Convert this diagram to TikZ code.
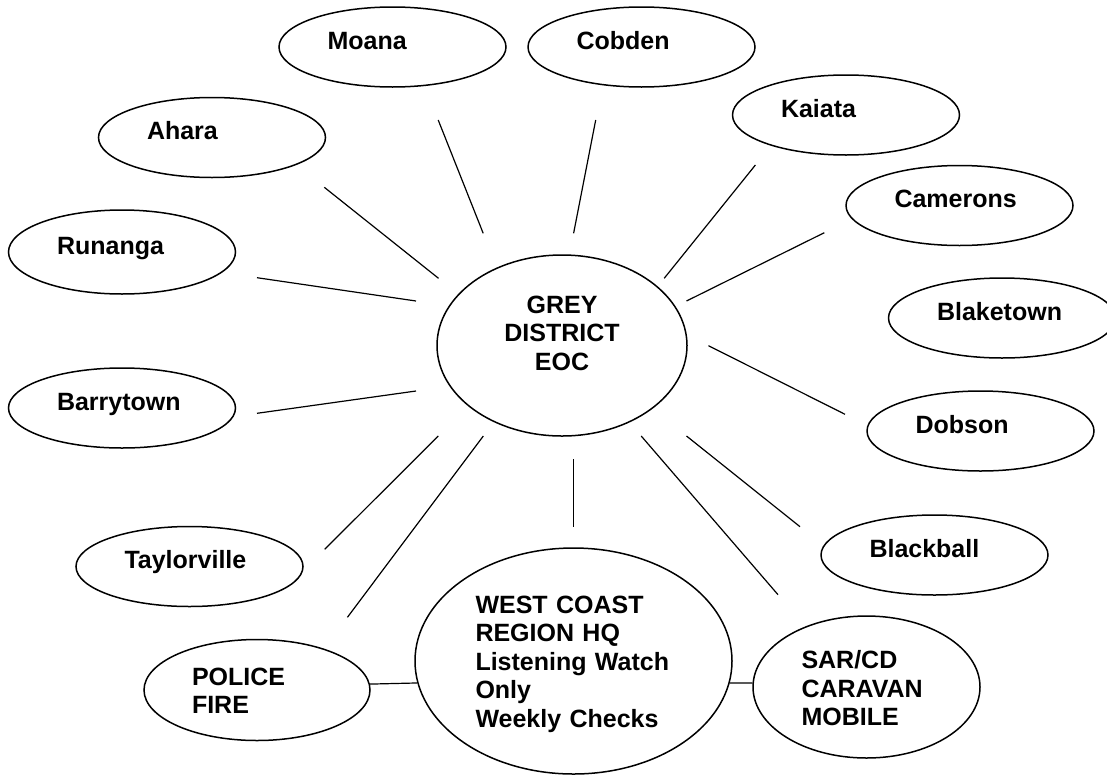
\documentclass[tikz,border=0pt]{standalone}
\usepackage{fontspec}
\setmainfont{Liberation Sans}
\usetikzlibrary{shapes.geometric}

\begin{document}
\begin{tikzpicture}[
    x = 1pt, y = -1pt, % pixel grid, y runs downwards
    site/.style = {ellipse, draw, line width = 1.5pt, inner sep = 0pt,
        minimum width = 227pt, minimum height = 80pt,
        text width = 130pt, align = left,
        text height = 18pt, text depth = 14pt,
        font = \fontsize{25pt}{28.5pt}\selectfont\bfseries},
    spoke/.style = {line width = 1.2pt}
    ]
    \useasboundingbox (0,0) rectangle (1107,774);

    % outlying stations
    \node[site] (moana) at (392.5,47) {Moana};
    \node[site] (cobden) at (641.5,47) {Cobden};
    \node[site] (ahara) at (212,137.5) {Ahara};
    \node[site] (kaiata) at (846,115) {Kaiata};
    \node[site, minimum height = 84pt] (runanga) at (122,252) {Runanga};
    \node[site] (camerons) at (959.5,205.5) {Camerons};
    \node[site] (blaketown) at (1002,318) {Blaketown};
    \node[site] (barrytown) at (122,408) {Barrytown};
    \node[site] (dobson) at (980.5,431) {Dobson};
    \node[site] (taylorville) at (189.5,566.5) {Taylorville};
    \node[site] (blackball) at (934.5,555) {Blackball};

    % main centres
    \node[site, minimum width = 250pt, minimum height = 181pt,
        text width = 140pt, align = center, text depth = 83pt]
        (eoc) at (562,345.5) {GREY\\DISTRICT\\EOC};
    \node[site, minimum width = 317pt, minimum height = 226pt,
        text width = 196pt, text depth = 114pt]
        (west) at (573.5,661) {WEST COAST\\REGION HQ\\Listening Watch\\Only\\Weekly Checks};
    \node[site, minimum height = 142pt, text depth = 55pt]
        (sar) at (866.5,687) {SAR/CD\\CARAVAN\\MOBILE};
    \node[site, minimum width = 226pt, minimum height = 101pt, text depth = 28pt]
        (police) at (257,690) {POLICE\\FIRE};

    % spokes round the EOC: name / outer end / inner end
    \foreach \n/\xa/\ya/\xb/\yb in {
        moana/438.2/120/483.2/233.3,
        cobden/595.7/120/573.6/233.3,
        ahara/324.3/187.3/438.5/278.3,
        kaiata/755.4/165/664.2/278.3,
        runanga/257/277.7/416/301,
        camerons/824.3/232.7/686.5/301,
        barrytown/257/413.3/416/391,
        dobson/845/414.3/708.5/345.7,
        taylorville/324.7/549.3/438.3/436,
        police/347.4/617.3/483.3/436,
        west/573.3/526.7/573.3/459.3,
        sar/778/594.7/641.2/436,
        blackball/800/526.7/686.5/436} {
        \coordinate (\n-out) at (\xa,\ya);
        \coordinate (\n-in) at (\xb,\yb);
        \draw[spoke] (\n-out) -- (\n-in);
    }

    \draw[spoke] (police.3) -- (west.188.4);
    \draw[spoke] (west.-8.4) -- (sar.178.5);
\end{tikzpicture}
\end{document}
